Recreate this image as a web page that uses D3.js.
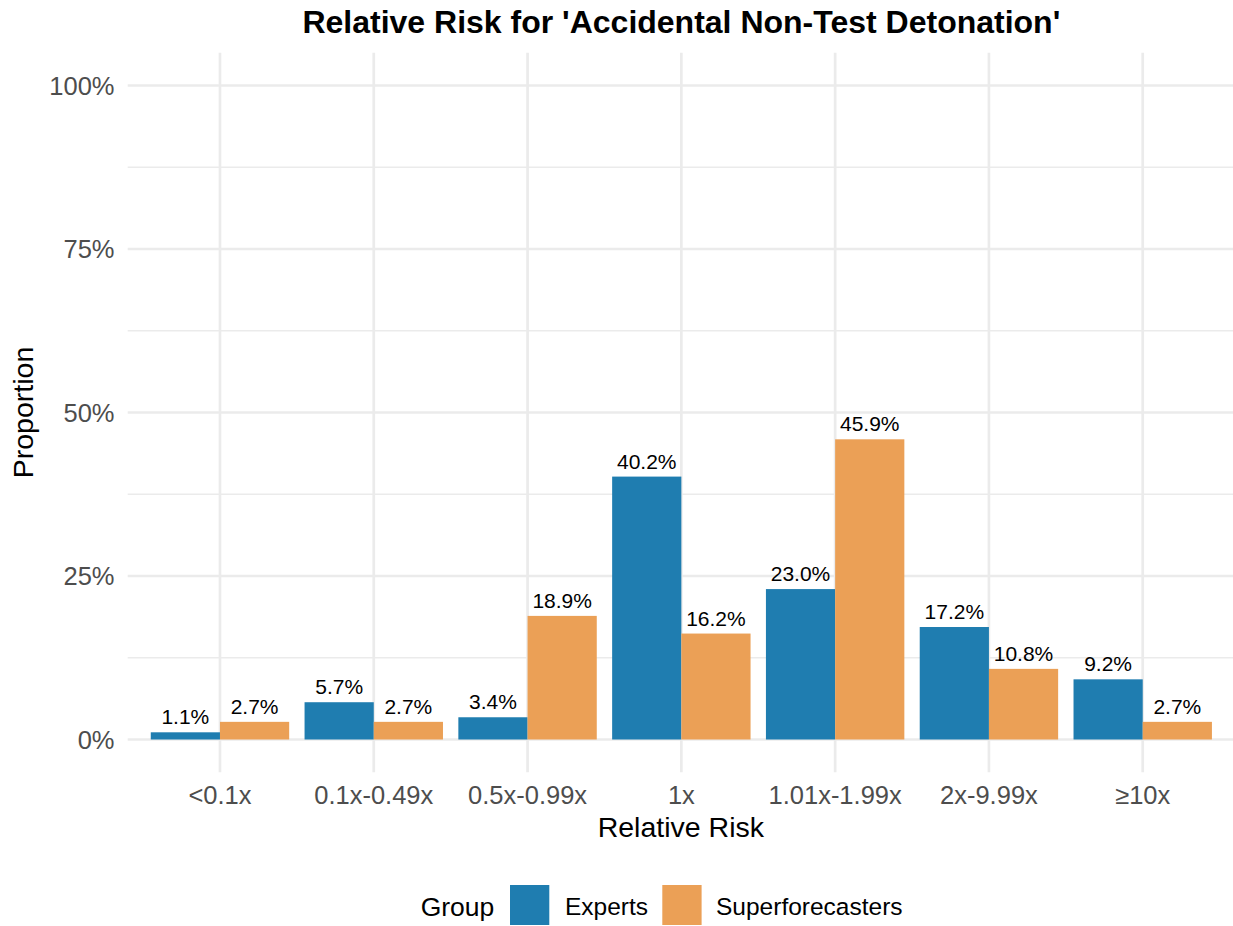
<!DOCTYPE html>
<html>
<head>
<meta charset="utf-8">
<script src="https://cdn.jsdelivr.net/npm/d3@7"></script>
<style>
  html, body { margin: 0; padding: 0; background: #ffffff; }
  svg { display: block; }
  text { font-family: "Liberation Sans", Arial, Helvetica, sans-serif; }
</style>
</head>
<body>
<script>
// ---- data ----
const categories = ["<0.1x", "0.1x-0.49x", "0.5x-0.99x", "1x", "1.01x-1.99x", "2x-9.99x", "\u226510x"];
const groups = ["Experts", "Superforecasters"];
const expertsValues = [1.1, 5.7, 3.4, 40.2, 23.0, 17.2, 9.2];
const superforecastersValues = [2.7, 2.7, 18.9, 16.2, 45.9, 10.8, 2.7];
const yTicks = [0, 0.25, 0.5, 0.75, 1];
const yMinorTicks = [0.125, 0.375, 0.625, 0.875];
const groupColors = ["#1F7DB0", "#EBA056"];
const titleText = "Relative Risk for 'Accidental Non-Test Detonation'";
const xTitle = "Relative Risk";
const yTitle = "Proportion";
const legendTitle = "Group";

const W = 1233, H = 926;
const panel = { left: 127.7, right: 1235, top: 52.8, bottom: 772.2 };

const svg = d3.select("body").append("svg").attr("width", W).attr("height", H);

const x = d3.scaleBand().domain(categories).range([panel.left, panel.right])
  .paddingInner(0).paddingOuter(0.1);
const step = x.step();
const xSub = d3.scaleBand().domain(groups).range([0.05 * step, 0.95 * step]).padding(0);
const y = d3.scaleLinear().domain([-0.05, 1.05]).range([panel.bottom, panel.top]);

const rows = [];
categories.forEach((c, i) => {
  rows.push({ cat: c, group: groups[0], value: expertsValues[i] / 100 });
  rows.push({ cat: c, group: groups[1], value: superforecastersValues[i] / 100 });
});

// grid
const grid = svg.append("g");
grid.selectAll(".ymin").data(yMinorTicks).enter().append("line")
  .attr("x1", panel.left).attr("x2", panel.right)
  .attr("y1", d => y(d)).attr("y2", d => y(d))
  .attr("stroke", "#EBEBEB").attr("stroke-width", 1.4);
grid.selectAll(".ymaj").data(yTicks).enter().append("line")
  .attr("x1", panel.left).attr("x2", panel.right)
  .attr("y1", d => y(d)).attr("y2", d => y(d))
  .attr("stroke", "#EBEBEB").attr("stroke-width", 2.7);
grid.selectAll(".xmaj").data(categories).enter().append("line")
  .attr("x1", d => x(d) + step / 2).attr("x2", d => x(d) + step / 2)
  .attr("y1", panel.top).attr("y2", panel.bottom)
  .attr("stroke", "#EBEBEB").attr("stroke-width", 2.7);

// bars
const color = d3.scaleOrdinal().domain(groups).range(groupColors);
svg.append("g").selectAll("rect").data(rows).enter().append("rect")
  .attr("x", d => x(d.cat) + xSub(d.group))
  .attr("width", xSub.bandwidth())
  .attr("y", d => y(d.value))
  .attr("height", d => y(0) - y(d.value))
  .attr("fill", d => color(d.group));

// data labels
svg.append("g").selectAll("text").data(rows).enter().append("text")
  .attr("x", d => x(d.cat) + xSub(d.group) + xSub.bandwidth() / 2)
  .attr("y", d => y(d.value) - 8)
  .attr("text-anchor", "middle")
  .attr("font-size", 21)
  .attr("fill", "#000")
  .text(d => (d.value * 100).toFixed(1) + "%");

// y axis tick labels
const fmt = d3.format(".0%");
svg.append("g").selectAll("text").data(yTicks).enter().append("text")
  .attr("x", 114.5).attr("y", d => y(d))
  .attr("dy", "0.36em")
  .attr("text-anchor", "end")
  .attr("font-size", 25.5)
  .attr("fill", "#4D4D4D")
  .text(d => fmt(d));

// x axis tick labels
svg.append("g").selectAll("text").data(categories).enter().append("text")
  .attr("x", d => x(d) + step / 2).attr("y", 803.5)
  .attr("text-anchor", "middle")
  .attr("font-size", 25.5)
  .attr("fill", "#4D4D4D")
  .text(d => d);

// axis titles
svg.append("text").attr("x", (panel.left + panel.right) / 2 - 0.5).attr("y", 836.5)
  .attr("text-anchor", "middle").attr("font-size", 28.5).attr("fill", "#000").text(xTitle);
svg.append("text")
  .attr("transform", `translate(33.3, ${(panel.top + panel.bottom) / 2}) rotate(-90)`)
  .attr("text-anchor", "middle").attr("font-size", 28.5).attr("fill", "#000").text(yTitle);

// title
svg.append("text").attr("x", (panel.left + panel.right) / 2).attr("y", 33.3)
  .attr("text-anchor", "middle").attr("font-size", 32).attr("font-weight", "bold")
  .attr("fill", "#000").text(titleText);

// legend
const lg = svg.append("g");
lg.append("text").attr("x", 420.7).attr("y", 916).attr("font-size", 26.5).attr("fill", "#000").text(legendTitle);
const keyX = [510, 662.3];
const labX = [565, 716];
groups.forEach((g, i) => {
  lg.append("rect").attr("x", keyX[i]).attr("y", 885).attr("width", 39.3).attr("height", 40)
    .attr("fill", color(g));
  lg.append("text").attr("x", labX[i]).attr("y", 915).attr("font-size", 24.5).attr("fill", "#000").text(g);
});
</script>
</body>
</html>
